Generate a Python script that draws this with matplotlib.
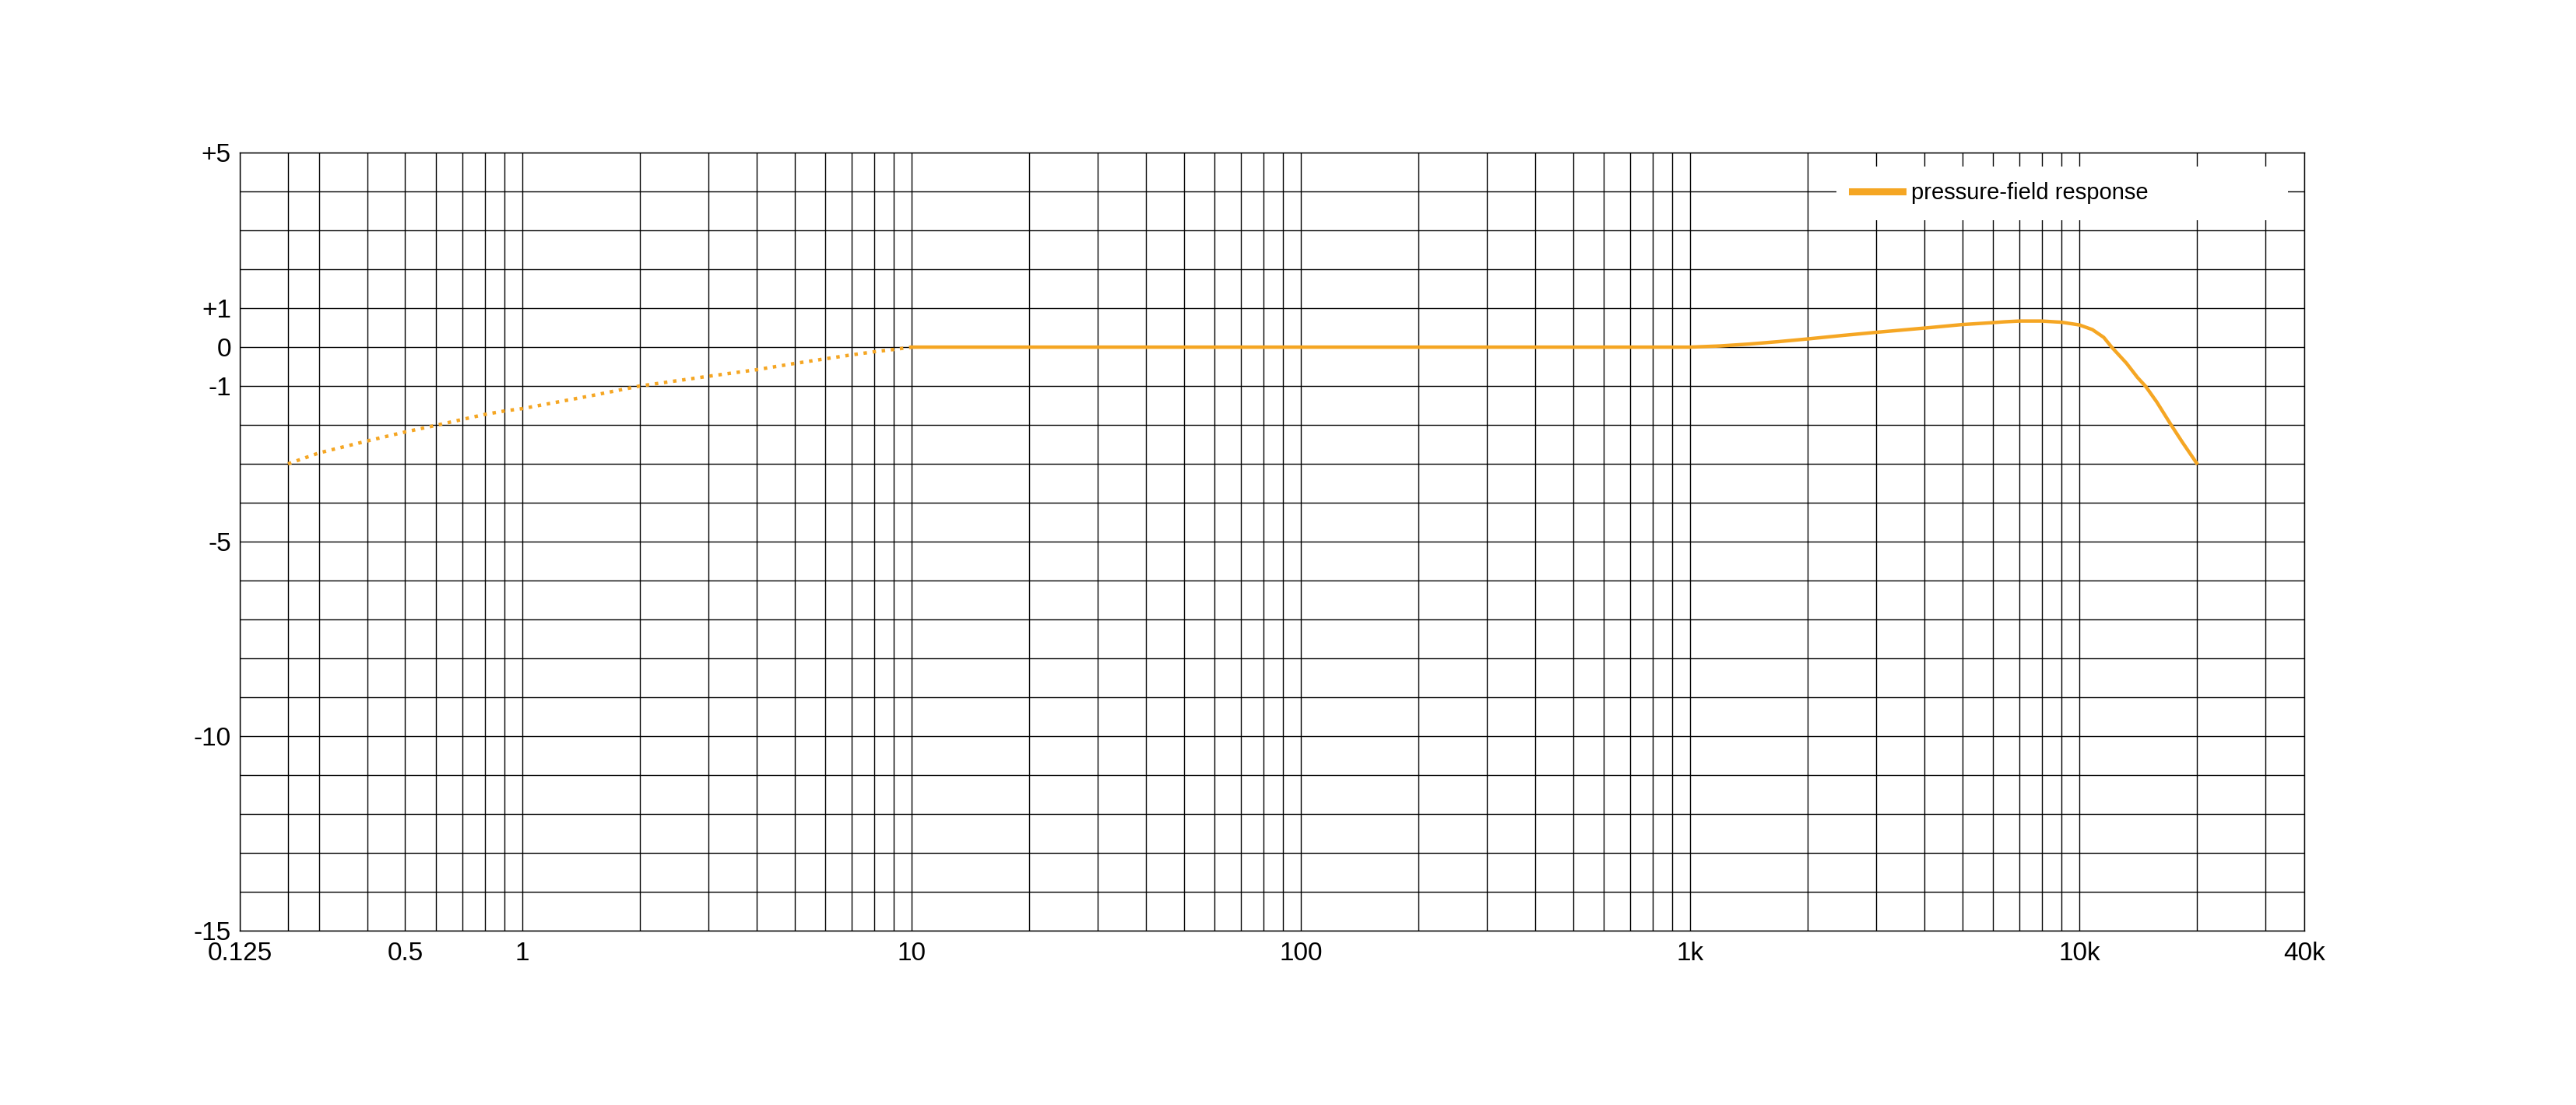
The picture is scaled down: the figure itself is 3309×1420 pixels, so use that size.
import matplotlib
matplotlib.use("Agg")
import matplotlib.pyplot as plt

plt.rcParams['font.family'] = ['Liberation Sans', 'DejaVu Sans']

# low-frequency part (dotted), Hz / dB
freq_lf = [0.25, 0.3, 0.4, 0.5, 0.6, 0.7, 0.8, 0.9, 1, 1.5, 2, 3, 4, 5, 6, 7, 8, 9, 10]
resp_lf = [-3.0, -2.72, -2.41, -2.18, -2.01, -1.86, -1.73, -1.64, -1.58, -1.25,
           -1.0, -0.75, -0.58, -0.42, -0.3, -0.2, -0.12, -0.06, 0.0]

# pressure-field response (solid), Hz / dB
freq_hf = [10, 20, 100, 500, 1000, 1190, 1420, 1680, 2000, 2460, 3000, 4000,
           5000, 6000, 6400, 7000, 8000, 9000, 10000, 10800, 11550, 12100,
           13200, 14100, 14800, 15800, 17200, 18400, 20000]
resp_hf = [0.0, 0.0, 0.0, 0.0, 0.0, 0.03, 0.08, 0.14, 0.21, 0.30, 0.38, 0.49,
           0.58, 0.63, 0.65, 0.67, 0.67, 0.64, 0.57, 0.45, 0.25, 0.0,
           -0.41, -0.78, -1.01, -1.41, -2.0, -2.45, -2.98]

# axis labels
x_ticks = [0.188, 0.5, 1, 10, 100, 1000, 10000, 37800]
x_labels = ['0.125', '0.5', '1', '10', '100', '1k', '10k', '40k']
x_grid = [0.25, 0.3, 0.4, 0.6, 0.7, 0.8, 0.9,
          2, 3, 4, 5, 6, 7, 8, 9,
          20, 30, 40, 50, 60, 70, 80, 90,
          200, 300, 400, 500, 600, 700, 800, 900,
          2000, 3000, 4000, 5000, 6000, 7000, 8000, 9000,
          20000, 30000]
y_ticks = [5, 1, 0, -1, -5, -10, -15]
y_labels = ['+5', '+1', '0', '-1', '-5', '-10', '-15']

orange = '#F5A623'

fig = plt.figure(figsize=(33.09, 14.2), dpi=100)
ax = fig.add_axes([0.0931, 0.1577, 0.8014, 0.7042])

ax.plot(freq_lf, resp_lf, color=orange, lw=3.2, linestyle=':')
ax.plot(freq_hf, resp_hf, color=orange, lw=3.2, label='pressure-field response',
        solid_joinstyle='round')

ax.set_xscale('log')
ax.set_xlim(0.188, 37800)
ax.set_ylim(-15, 5)

ax.set_xticks(x_ticks)
ax.set_xticklabels(x_labels)
ax.set_xticks(x_grid, minor=True)
ax.set_xticklabels([], minor=True)
ax.set_yticks(y_ticks)
ax.set_yticklabels(y_labels)
ax.set_yticks(range(-15, 6), minor=True)

ax.tick_params(which='both', length=0)
ax.tick_params(axis='x', labelsize=24, pad=10)
ax.tick_params(axis='y', labelsize=24, pad=8)

ax.grid(which='both', color='black', lw=1.0)
ax.set_axisbelow(True)
for s in ax.spines.values():
    s.set_color('black')
    s.set_linewidth(1.0)

leg = ax.legend(loc='center left', bbox_to_anchor=(0.7734, 0.91, 0.2187, 0.076),
                mode='expand', borderaxespad=0, fontsize=21, frameon=True,
                fancybox=False, edgecolor='none', facecolor='white',
                framealpha=1, borderpad=0.7, handlelength=2.2,
                handletextpad=0.4)
for line in leg.get_lines():
    line.set_linewidth(6.5)

fig.savefig('out.png', dpi=100, facecolor='white')
